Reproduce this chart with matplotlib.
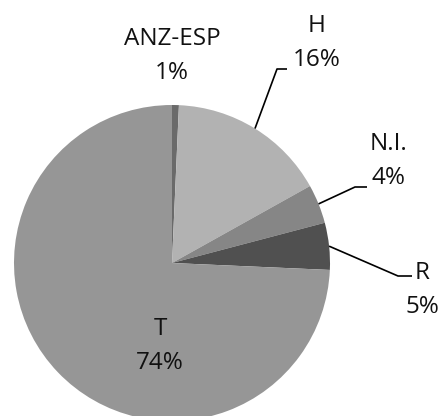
import matplotlib
matplotlib.use("Agg")
import matplotlib.pyplot as plt
import numpy as np

labels = ["ANZ-ESP", "H", "N.I.", "R", "T"]
shares = [0.7, 16.2, 4.0, 4.8, 74.3]
colors = ["#6a6a6a", "#b2b2b2", "#868686", "#505050", "#969696"]

# label text centres and leader elbows, in pixel coords (y down)
label_pos = {
    "ANZ-ESP": (172, 56),
    "H": (317, 43),
    "N.I.": (388, 161),
    "R": (422, 290),
    "T": (160, 346),
}
elbows = {
    "H": [(277, 69), (287, 69)],
    "N.I.": [(355, 187), (367, 187)],
    "R": [(398, 276), (412, 276)],
}

W, H = 440, 416
cx, cy, r = 172, 263, 158

plt.rcParams["font.family"] = ["Open Sans", "DejaVu Sans"]
fig = plt.figure(figsize=(W / 100, H / 100), dpi=100)
ax = fig.add_axes([0, 0, 1, 1])

wedges, _ = ax.pie(shares, colors=colors, startangle=90, counterclock=False,
                   center=(cx, H - cy), radius=r, frame=True,
                   wedgeprops=dict(linewidth=0))
ax.set_xlim(0, W)
ax.set_ylim(0, H)
ax.axis("off")

for lab, val, w in zip(labels, shares, wedges):
    x, y = label_pos[lab]
    ax.text(x, H - y, f"{lab}\n{val:.0f}%", ha="center", va="center",
            fontsize=17.5, linespacing=1.55, color="#111111")
    if lab in elbows:
        mid = np.deg2rad((w.theta1 + w.theta2) / 2)
        px, py = cx + r * np.cos(mid), (H - cy) + r * np.sin(mid)
        xs = [px] + [e[0] for e in elbows[lab]]
        ys = [py] + [H - e[1] for e in elbows[lab]]
        ax.plot(xs, ys, color="black", lw=1.2, solid_capstyle="butt")

fig.savefig("out.png", dpi=100)
